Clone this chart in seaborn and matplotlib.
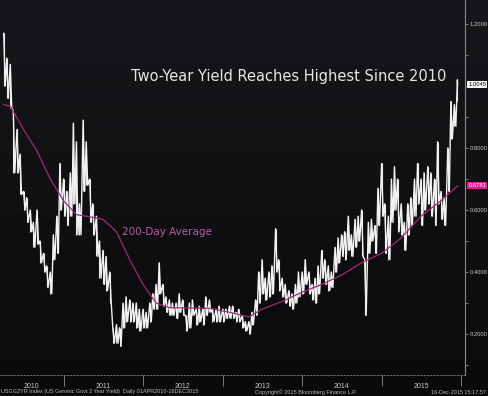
import numpy as np
import pandas as pd
import matplotlib
matplotlib.use("Agg")
import matplotlib.pyplot as plt
import matplotlib.dates as mdates
from matplotlib.ticker import FixedLocator, MultipleLocator, NullFormatter
import seaborn as sns

# semi-monthly high / low of the 2-year yield (Apr 2010 - Dec 2015)
hi_2010 = [1.17, 1.09, 1.07, 0.92, 0.86, 0.78, 0.66, 0.64, 0.60, 0.56, 0.60, 0.50, 0.46, 0.42, 0.40, 0.52, 0.58, 0.75]
lo_2010 = [1.00, 0.96, 0.93, 0.72, 0.72, 0.65, 0.60, 0.56, 0.53, 0.48, 0.49, 0.43, 0.40, 0.35, 0.33, 0.44, 0.46, 0.60]
hi_2011 = [0.70, 0.66, 0.72, 0.88, 0.82, 0.62, 0.89, 0.82, 0.70, 0.62, 0.58, 0.50, 0.47, 0.45, 0.40, 0.22, 0.23, 0.22, 0.30, 0.32, 0.31, 0.30, 0.30, 0.28]
lo_2011 = [0.58, 0.55, 0.58, 0.62, 0.52, 0.52, 0.66, 0.68, 0.56, 0.52, 0.45, 0.38, 0.36, 0.34, 0.30, 0.17, 0.17, 0.16, 0.22, 0.24, 0.24, 0.24, 0.22, 0.21]
hi_2012 = [0.28, 0.27, 0.30, 0.33, 0.36, 0.43, 0.36, 0.32, 0.31, 0.30, 0.30, 0.33, 0.31, 0.26, 0.30, 0.31, 0.28, 0.29, 0.28, 0.32, 0.31, 0.28, 0.28, 0.29]
lo_2012 = [0.22, 0.22, 0.24, 0.28, 0.28, 0.33, 0.29, 0.27, 0.26, 0.26, 0.25, 0.27, 0.26, 0.21, 0.22, 0.26, 0.23, 0.24, 0.23, 0.26, 0.27, 0.24, 0.24, 0.24]
hi_2013 = [0.28, 0.28, 0.29, 0.29, 0.27, 0.28, 0.26, 0.24, 0.24, 0.27, 0.31, 0.40, 0.44, 0.38, 0.40, 0.42, 0.54, 0.44, 0.38, 0.36, 0.34, 0.33, 0.36, 0.40]
lo_2013 = [0.24, 0.25, 0.25, 0.25, 0.24, 0.24, 0.22, 0.21, 0.20, 0.23, 0.26, 0.30, 0.33, 0.31, 0.32, 0.33, 0.40, 0.34, 0.32, 0.30, 0.29, 0.28, 0.30, 0.32]
hi_2014 = [0.40, 0.44, 0.40, 0.36, 0.38, 0.42, 0.47, 0.44, 0.42, 0.40, 0.48, 0.51, 0.52, 0.53, 0.58, 0.52, 0.57, 0.58, 0.60, 0.44, 0.56, 0.57, 0.55, 0.67]
lo_2014 = [0.33, 0.36, 0.33, 0.31, 0.30, 0.33, 0.38, 0.36, 0.34, 0.35, 0.40, 0.43, 0.45, 0.44, 0.47, 0.45, 0.48, 0.50, 0.45, 0.26, 0.46, 0.50, 0.46, 0.55]
hi_2015 = [0.75, 0.62, 0.58, 0.70, 0.74, 0.70, 0.62, 0.56, 0.62, 0.64, 0.70, 0.75, 0.70, 0.72, 0.74, 0.72, 0.70, 0.82, 0.66, 0.64, 0.80, 0.95, 0.94, 1.02]
lo_2015 = [0.58, 0.46, 0.44, 0.56, 0.60, 0.53, 0.52, 0.47, 0.52, 0.55, 0.58, 0.62, 0.55, 0.60, 0.62, 0.58, 0.55, 0.62, 0.57, 0.55, 0.66, 0.83, 0.87, 0.95]

last_date = "2015-12-16"
last_value = 1.0045

# 200-day moving average
ma_dates = ["2010-04-01", "2010-05-01", "2010-07-01", "2010-09-01", "2010-11-01", "2011-01-01",
            "2011-03-01", "2011-05-01", "2011-07-01", "2011-09-01", "2011-11-01", "2012-01-01",
            "2012-03-01", "2012-05-01", "2012-08-01", "2012-11-01", "2013-02-01", "2013-05-01",
            "2013-07-01", "2013-10-01", "2014-01-01", "2014-04-01", "2014-07-01", "2014-10-01",
            "2015-01-01", "2015-04-01", "2015-07-01", "2015-10-01", "2015-12-16"]
ma_values = [0.94, 0.935, 0.86, 0.79, 0.70, 0.63, 0.585, 0.578, 0.57, 0.53, 0.44, 0.36,
             0.30, 0.285, 0.284, 0.283, 0.27, 0.255, 0.28, 0.305, 0.335, 0.36, 0.39, 0.43,
             0.46, 0.51, 0.58, 0.63, 0.6781]

years = ["2010", "2011", "2012", "2013", "2014", "2015"]
y_ticks = [0.2, 0.4, 0.6, 0.8, 1.0, 1.2]

hi = hi_2010 + hi_2011 + hi_2012 + hi_2013 + hi_2014 + hi_2015
lo = lo_2010 + lo_2011 + lo_2012 + lo_2013 + lo_2014 + lo_2015
starts = pd.date_range("2010-04-01", "2015-12-15", freq="SMS")

rows = []
for d, h, l in zip(starts, hi, lo):
    rows.append((d, h))
    rows.append((d + pd.Timedelta(days=7), l))
rows = [r for r in rows if r[0] < pd.Timestamp(last_date)]
rows.append((pd.Timestamp(last_date), last_value))
df = pd.DataFrame(rows, columns=["date", "yield"])
ma = pd.DataFrame({"date": pd.to_datetime(ma_dates), "ma": ma_values})

W, H = 488, 396
fig = plt.figure(figsize=(W / 100, H / 100), dpi=100)

# dark gradient background
bg = fig.add_axes([0, 0, 1, 1], zorder=-5)
grad = np.linspace(0, 1, 256).reshape(-1, 1)
bg.imshow(grad, aspect="auto", cmap=matplotlib.colors.LinearSegmentedColormap.from_list(
    "bb", ["#17171b", "#0a0a0b"]), extent=[0, 1, 0, 1])
bg.axis("off")

ax = fig.add_axes([0, 21 / H, 465 / W, 375 / H])
ax.set_facecolor("none")

ax.vlines(starts, lo, hi, color="#e8e8e8", lw=0.8, zorder=3)
sns.lineplot(data=df, x="date", y="yield", ax=ax, color="#f2f2f2", lw=1.0, zorder=3)
sns.lineplot(data=ma, x="date", y="ma", ax=ax, color="#9e2b74", lw=0.9, zorder=4)

x0 = pd.Timestamp("2010-03-15")
x1 = pd.Timestamp("2016-01-19")
ax.set_xlim(x0, x1)
ax.set_ylim(1.2 - 351 / 310, 1.2 + 24 / 310)
ax.set_xlabel("")
ax.set_ylabel("")

small = ["Liberation Sans", "DejaVu Sans"]

# right value axis (1.0000 sits under the last-value box, as in the original)
ax.yaxis.tick_right()
ax.set_yticks(y_ticks)
ax.set_yticklabels(["" if v == 1.0 else f"{v:.4f}" for v in y_ticks], family=small)
ax.yaxis.set_minor_locator(MultipleLocator(0.1))
ax.tick_params(axis="y", which="major", colors="#8a8a8a", labelcolor="#c8c8c8",
               labelsize=4.2, length=2.5, width=0.6, pad=0.8)
ax.tick_params(axis="y", which="minor", colors="#8a8a8a", length=1.8, width=0.6)

# year separators and labels
sep = [pd.Timestamp(f"{y}-01-01") for y in range(2011, 2017)]
mid = [pd.Timestamp("2010-08-05")] + [pd.Timestamp(f"{y}-07-01") for y in range(2011, 2016)]
ax.xaxis.set_major_locator(FixedLocator(mdates.date2num(sep)))
ax.xaxis.set_major_formatter(NullFormatter())
ax.xaxis.set_minor_locator(FixedLocator(mdates.date2num(mid)))
ax.set_xticklabels(years, minor=True, family=small)
ax.tick_params(axis="x", which="major", colors="#8a8a8a", length=8, width=0.6)
ax.tick_params(axis="x", which="minor", length=0, labelsize=5, labelcolor="#c8c8c8", pad=6)

for s in ["top", "left"]:
    ax.spines[s].set_visible(False)
ax.spines["right"].set_color("#8a8a8a")
ax.spines["right"].set_linewidth(0.8)
ax.spines["bottom"].set_color("#7a7a7a")
ax.spines["bottom"].set_linestyle((0, (2, 2)))
ax.spines["bottom"].set_linewidth(0.6)
ax.grid(False)

# highlighted last values on the axis
tr = matplotlib.transforms.blended_transform_factory(ax.transAxes, ax.transData)
ax.text(1.007, last_value, f"{last_value:.4f}", transform=tr, fontsize=4.2, family=small,
        color="#111111", va="center", ha="left",
        bbox=dict(boxstyle="square,pad=0.2", fc="#f4f4f4", ec="none"))
ax.text(1.007, ma_values[-1], f"{ma_values[-1]:.4f}", transform=tr, fontsize=4.2, family=small,
        color="#ffffff", va="center", ha="left",
        bbox=dict(boxstyle="square,pad=0.2", fc="#e5199a", ec="none"))

fig.text(131 / W, 1 - 76 / H, "Two-Year Yield Reaches Highest Since 2010", fontsize=10.5,
         color="#e6e6e6", va="center", ha="left")
fig.text(122 / W, 1 - 232 / H, "200-Day Average", fontsize=7.5, color="#b45ea4",
         va="center", ha="left")

fig.text(1 / W, 1 - 392 / H, "USGG2YR Index (US Generic Govt 2 Year Yield)  Daily 01APR2010-16DEC2015",
         fontsize=4, family=small, color="#b8b8b8", va="center", ha="left")
fig.text(306 / W, 1 - 392 / H, "Copyright\u00a9 2015 Bloomberg Finance L.P.",
         fontsize=4, family=small, color="#b8b8b8", va="center", ha="center")
fig.text(486 / W, 1 - 392 / H, "16-Dec-2015 15:17:57",
         fontsize=4, family=small, color="#b8b8b8", va="center", ha="right")

fig.savefig("out.png", dpi=100)
